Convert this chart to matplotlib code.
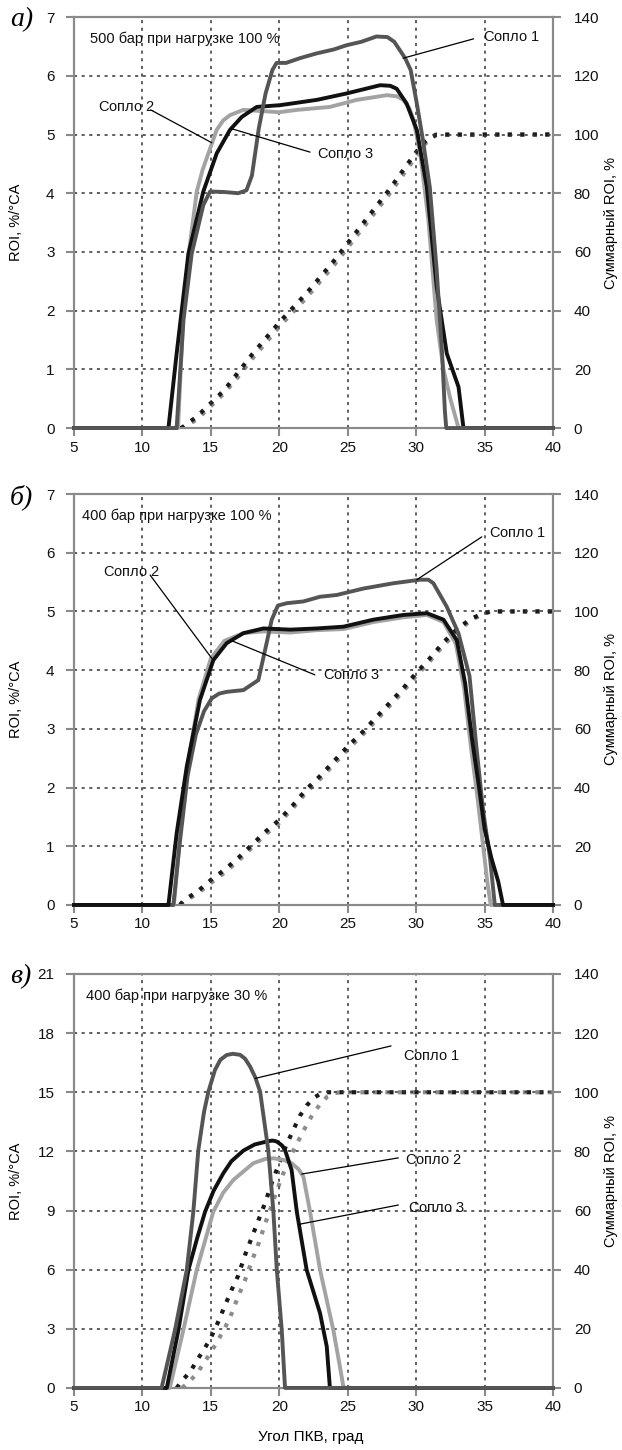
import matplotlib
matplotlib.use("Agg")
import matplotlib.pyplot as plt

FONT = ["Liberation Sans", "DejaVu Sans"]
plt.rcParams["font.family"] = FONT
plt.rcParams["mathtext.fontset"] = "custom"
plt.rcParams["mathtext.rm"] = "Liberation Sans"
plt.rcParams["mathtext.it"] = "Liberation Sans:italic"

# ---- panel a: 500 bar, 100 % load ----
a_x1 = [5, 12.5, 13.0, 13.6, 14.45, 14.95, 16.0, 17.0, 17.6, 18.0, 18.5, 19.0, 19.5, 19.8, 20.5,
        21.5, 22.7, 24.0, 24.9, 26.0, 27.1, 27.9, 28.4, 28.8, 29.2, 29.6, 30.05, 30.5, 31.0, 31.5, 31.9, 32.1, 32.2, 40]
a_y1 = [0, 0, 1.84, 2.97, 3.8, 4.03, 4.02, 4.0, 4.05, 4.3, 5.1, 5.7, 6.1, 6.22, 6.22,
        6.3, 6.38, 6.45, 6.52, 6.58, 6.67, 6.66, 6.58, 6.44, 6.3, 6.1, 5.53, 4.9, 4.1, 2.7, 1.27, 0.3, 0, 0]
a_x2 = [5, 12.6, 12.8, 13.0, 13.4, 13.97, 14.4, 14.82, 15.43, 15.9, 16.4, 17.38, 20.0, 21.3, 23.7, 25.66, 27.86,
        28.6, 29.07, 29.5, 29.8, 30.3, 30.9, 31.5, 32.0, 32.5, 33.1, 40]
a_y2 = [0, 0, 1.0, 2.0, 3.0, 4.03, 4.4, 4.68, 5.08, 5.24, 5.33, 5.42, 5.38, 5.42, 5.47, 5.59, 5.67,
        5.65, 5.59, 5.45, 5.25, 4.68, 3.54, 1.84, 1.0, 0.5, 0, 0]
a_x3 = [5, 11.9, 12.5, 13.36, 14.45, 15.43, 16.4, 17.26, 18.35, 20.06, 22.74, 24.93, 27.37, 28.1, 28.58,
        29.3, 30.05, 30.78, 31.5, 32.24, 33.1, 33.46, 40]
a_y3 = [0, 0, 1.27, 2.97, 4.03, 4.68, 5.08, 5.30, 5.47, 5.5, 5.59, 5.70, 5.84, 5.83, 5.78,
        5.53, 5.08, 4.11, 2.41, 1.27, 0.7, 0, 0]
a_cx = [12.8, 13, 14, 15, 16, 17, 18, 19, 20, 21, 22, 23, 24, 25, 26, 27, 28, 29, 30, 30.5, 31, 31.5, 40]
a_cum_dark = [0, 0.5, 4, 8.5, 13, 19, 25, 30.5, 36, 41, 46, 51.5, 57, 63, 69, 75, 81, 87.5, 94, 97, 99, 100, 100]
a_cum_gray = [0, 0.2, 3, 7.5, 12, 17.5, 23.5, 29, 34.5, 39.5, 44.5, 50, 55.5, 61.5, 67.5, 73.5, 79.5, 86, 92.5, 96, 98.5, 99.8, 100]

# ---- panel b: 400 bar, 100 % load ----
b_x1 = [5, 12.26, 12.7, 13.3, 13.9, 14.5, 15.07, 15.6, 16.16, 17.38, 18.47, 18.96, 19.45, 19.9, 20.55,
        21.76, 22.98, 24.2, 26.15, 28.34, 30.29, 30.9, 31.26, 32.24, 33.09, 33.9, 34.4, 34.9, 35.4, 35.75, 40]
b_y1 = [0, 0, 1.0, 2.2, 2.9, 3.3, 3.52, 3.6, 3.63, 3.66, 3.83, 4.34, 4.86, 5.1, 5.14,
        5.17, 5.25, 5.28, 5.39, 5.48, 5.54, 5.54, 5.48, 5.08, 4.63, 3.9, 2.7, 1.6, 0.8, 0, 0]
b_x2 = [5, 12.3, 12.8, 13.4, 14.1, 15.0, 16.0, 17.4, 18.8, 20.8, 22.7, 24.7, 26.9, 29.07, 30.78,
        32.0, 32.9, 33.5, 34.0, 34.5, 34.9, 35.2, 35.45, 40]
b_y2 = [0, 0, 1.3, 2.5, 3.5, 4.2, 4.5, 4.63, 4.66, 4.64, 4.68, 4.7, 4.82, 4.9, 4.94,
        4.82, 4.45, 3.7, 2.7, 1.8, 1.0, 0.4, 0, 0]
b_x3 = [5, 11.9, 12.5, 13.24, 14.2, 15.18, 16.16, 17.38, 18.84, 20.8, 22.74, 24.69, 26.88, 29.07,
        30.78, 32.0, 32.97, 33.58, 34.1, 34.6, 35.0, 35.5, 36.0, 36.35, 40]
b_y3 = [0, 0, 1.22, 2.36, 3.49, 4.17, 4.46, 4.63, 4.71, 4.69, 4.71, 4.74, 4.86, 4.94,
        4.97, 4.86, 4.51, 3.78, 2.8, 2.0, 1.3, 0.8, 0.4, 0, 0]
b_cx = [12.75, 13, 14, 15, 16, 17, 18, 19, 20, 21, 22, 23, 24, 25, 26, 27, 28, 29, 30, 31, 32, 33, 34, 35, 35.5, 40]
b_cum_dark = [0, 1.5, 4.5, 8.5, 12, 16, 20.5, 25, 29, 34, 39.5, 44, 49, 54, 58.5, 63.5, 68.5, 73.5, 79, 84, 89.5,
              94, 97.5, 99.5, 100, 100]
b_cum_gray = [0, 1.0, 3.8, 7.5, 11, 15, 19.5, 24, 28, 33, 38.5, 43, 48, 53, 57.5, 62.5, 67.5, 72.5, 78, 83, 88.5,
              93, 97, 99.3, 100, 100]

# ---- panel c: 400 bar, 30 % load ----
c_x1 = [5, 11.4, 12.38, 13.24, 13.72, 14.08, 14.5, 14.82, 15.3, 15.7, 16.16, 16.6, 17.13, 17.5, 17.87, 18.25,
        18.6, 19.2, 19.57, 19.82, 20.18, 20.42, 40]
c_y1 = [0, 0, 2.94, 5.99, 8.94, 12.04, 14.0, 15.03, 16.13, 16.65, 16.89, 16.95, 16.9, 16.7, 16.3, 15.75,
        15.03, 12.04, 8.94, 5.99, 2.94, 0, 0]
c_x2 = [5, 12.0, 12.99, 13.97, 15.18, 15.9, 16.64, 18.1, 19.0, 19.57, 20.3, 20.9, 21.4, 21.76, 22.25, 22.98,
        23.95, 24.4, 24.7, 40]
c_y2 = [0, 0, 2.94, 5.99, 8.94, 9.9, 10.55, 11.4, 11.62, 11.65, 11.57, 11.4, 11.1, 10.72, 8.94, 5.99,
        2.94, 1.2, 0, 0]
c_x3 = [5, 11.78, 12.63, 13.36, 14.0, 14.58, 15.2, 15.91, 16.5, 17.38, 18.2, 19.08, 19.5, 19.82, 20.2, 20.42,
        20.9, 21.28, 22.0, 22.98, 23.47, 23.7, 40]
c_y3 = [0, 0, 2.94, 5.99, 7.6, 8.94, 10.0, 10.89, 11.5, 12.04, 12.35, 12.5, 12.55, 12.5, 12.3, 12.07,
        11.06, 8.94, 5.99, 3.79, 2.1, 0, 0]
c_cx_dark = [12.5, 13, 13.5, 14, 14.5, 15, 15.5, 16, 16.5, 17, 17.5, 18, 18.5, 19, 19.5, 20, 20.5, 21,
             21.5, 22, 22.5, 23, 23.5, 40]
c_cum_dark = [0, 3, 5.5, 9.5, 13, 17, 22, 27.5, 33, 38, 45, 51, 57, 63, 70, 76, 82, 87,
              92, 95.5, 98, 99.5, 100, 100]
c_cx_gray = [12.9, 13.5, 14, 14.5, 15, 15.5, 16, 16.5, 17, 17.5, 18, 18.5, 19, 19.5, 20, 20.5, 21,
             21.5, 22, 22.5, 23, 23.5, 24, 24.5, 40]
c_cum_gray = [0, 2.5, 5, 8.5, 12, 16, 20, 25, 31, 36.5, 43, 49, 56, 62.5, 69, 75, 80,
              84.5, 89, 93, 96, 98.5, 99.7, 100, 100]

x_ticks = [5, 10, 15, 20, 25, 30, 35, 40]
right_ticks = [0, 20, 40, 60, 80, 100, 120, 140]

C1 = "#555555"
C2 = "#a3a3a3"
C3 = "#111111"
SPINE = "#8a8a8a"
FS = 10.5

fig = plt.figure(figsize=(6.22, 14.5), dpi=100)

panels = [
    dict(rect=[0.119, 0.7048, 0.770, 0.2834], letter="а)", ymax=7, yticks=range(0, 8),
         title="500 бар при нагрузке 100 %", tx=6.2,
         lines=[(a_x2, a_y2, C2), (a_x3, a_y3, C3), (a_x1, a_y1, C1)],
         cums=[(a_cx, a_cum_gray, "#8c8c8c"), (a_cx, a_cum_dark, "#1a1a1a")],
         notes=[("1", (29.05, 6.3), (34.2, 6.63), (34.9, 6.66)),
                ("2", (15.07, 4.86), (10.6, 5.42), (6.75, 5.47)),
                ("3", (16.5, 5.1), (22.25, 4.70), (22.76, 4.67))]),
    dict(rect=[0.119, 0.3759, 0.770, 0.2834], letter="б)", ymax=7, yticks=range(0, 8),
         title="400 бар при нагрузке 100 %", tx=5.6,
         lines=[(b_x2, b_y2, C2), (b_x1, b_y1, C1), (b_x3, b_y3, C3)],
         cums=[(b_cx, b_cum_gray, "#8c8c8c"), (b_cx, b_cum_dark, "#1a1a1a")],
         notes=[("1", (30.05, 5.54), (34.8, 6.27), (35.3, 6.34)),
                ("2", (15.07, 4.2), (10.56, 5.62), (7.1, 5.67)),
                ("3", (16.53, 4.5), (22.6, 3.92), (23.2, 3.92))]),
    dict(rect=[0.119, 0.0428, 0.770, 0.2855], letter="в)", ymax=21, yticks=range(0, 22, 3),
         title="400 бар при нагрузке 30 %", tx=5.9,
         lines=[(c_x2, c_y2, C2), (c_x3, c_y3, C3), (c_x1, c_y1, C1)],
         cums=[(c_cx_gray, c_cum_gray, "#8c8c8c"), (c_cx_dark, c_cum_dark, "#1a1a1a")],
         notes=[("1", (18.23, 15.7), (28.17, 17.35), (29.05, 16.84)),
                ("2", (21.64, 10.85), (28.7, 11.67), (29.2, 11.57)),
                ("3", (21.45, 8.3), (28.7, 9.28), (29.4, 9.13))]),
]

for p in panels:
    ax = fig.add_axes(p["rect"])
    ax2 = ax.twinx()
    ax.set_zorder(ax2.get_zorder() + 1)
    ax.patch.set_visible(False)

    ymax = p["ymax"]
    ax.set_xlim(5, 40)
    ax.set_ylim(0, ymax)
    ax2.set_ylim(0, 140)
    ax.set_xticks(x_ticks)
    ax.set_yticks(list(p["yticks"]))
    ax2.set_yticks(right_ticks)

    for a in (ax, ax2):
        for s in a.spines.values():
            s.set_color(SPINE)
            s.set_linewidth(1.5)
        a.tick_params(colors=SPINE, labelcolor="#111111", labelsize=11, width=1.5, length=6,
                      direction="out")
    ax.tick_params(axis="y", pad=8)
    ax.tick_params(axis="x", pad=3)
    ax2.tick_params(axis="y", pad=9)

    ax.grid(True, color="#333333", linestyle=(0, (2, 3)), linewidth=1.1)

    for cx, cy, col in p["cums"]:
        ax2.plot(cx, cy, color=col, linewidth=3.0, linestyle=(0, (1.0, 2.0)),
                 dash_capstyle="butt", zorder=2)

    for x, y, col in p["lines"]:
        ax.plot(x, y, color=col, linewidth=2.8, solid_joinstyle="round", clip_on=False, zorder=3)

    ax.text(p["tx"], ymax * 0.948, p["title"], fontsize=FS, va="center", ha="left", color="#111111")

    for num, xy, start, txt in p["notes"]:
        ax.annotate("", xy=xy, xytext=start,
                    arrowprops=dict(arrowstyle="-", color="black", linewidth=0.9, shrinkA=0, shrinkB=0))
        ax.text(txt[0], txt[1], "Сопло $\\it{" + num + "}$", fontsize=FS, va="center", ha="left",
                color="#111111")

    top = p["rect"][1] + p["rect"][3]
    fig.text(0.016, top - 0.002, p["letter"], fontsize=20, fontstyle="italic",
             family=["Liberation Serif", "DejaVu Serif"], va="center", ha="left")
    mid = p["rect"][1] + p["rect"][3] / 2
    fig.text(0.026, mid, "ROI, %/°CA", rotation=90, fontsize=FS, va="center", ha="center")
    fig.text(0.982, mid, "Суммарный ROI, %", rotation=90, fontsize=FS, va="center", ha="center")

fig.text(0.5, 0.009, "Угол ПКВ, град", fontsize=11, ha="center", va="center")

fig.savefig("out.png", dpi=100)
